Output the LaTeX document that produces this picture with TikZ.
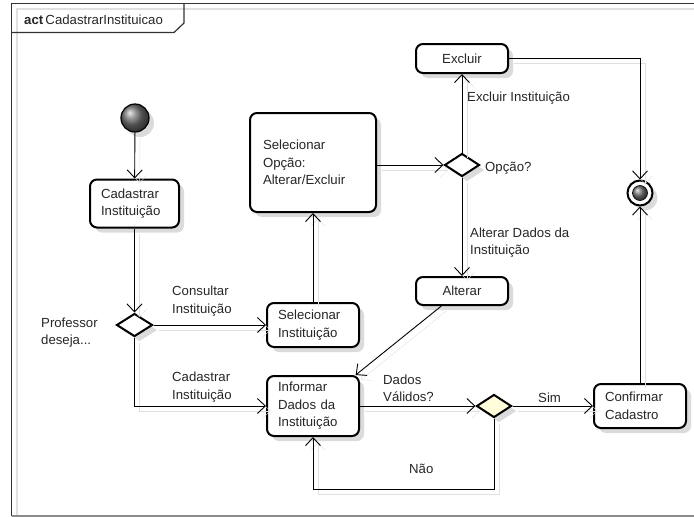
\documentclass[tikz,border=0pt]{standalone}
\usepackage{fontspec}
\setmainfont{Liberation Sans}
\usetikzlibrary{arrows.meta,shapes.geometric,shadows,calc}
\begin{document}
\begin{tikzpicture}[x=1pt,y=-1pt,
  every node/.style={font=\fontsize{13.2}{17.5}\selectfont, text=black!85},
  boxshadow/.style={drop shadow={shadow xshift=5pt,shadow yshift=-5pt,fill=black!14,opacity=1}},
  action/.style={draw=black, line width=2pt, rounded corners=7pt, fill=white,
    inner xsep=11pt, inner ysep=0pt, align=left, boxshadow},
  choice/.style={draw=black, diamond, line width=2pt, fill=white, inner sep=0pt,
    minimum width=36pt, minimum height=23pt, boxshadow},
  lbl/.style={inner sep=0pt, anchor=west, align=left},
  flow/.style={draw=black, line width=0.9pt,
    -{Straight Barb[length=8pt,width=15pt,line width=0.9pt]},
    preaction={draw=black!12, transform canvas={xshift=5pt,yshift=-5pt}}}
]
\useasboundingbox (0,0) rectangle (694,517);

% frame with its shadow
\draw[black!12, line width=1.2pt] (17,517) -- (17,9) -- (700,9);
\draw[black!80, line width=1.4pt] (11.5,516) -- (11.5,3.5) -- (700,3.5);
\draw[black!45, line width=2pt] (11.5,516) -- (700,516);
\draw[black!80, line width=1.2pt] (11.5,32.5) -- (174,32.5) -- (184,23) -- (184,3.5);
\node[lbl] (title) at (24,20) {\textbf{act}\,CadastrarInstituicao};

% activity nodes
\node[circle, draw=black, line width=1.2pt, minimum size=28pt, inner sep=0pt,
  shading=ball, ball color=black!55, boxshadow] (start) at (135,118) {};
\node[action, text width=67pt, minimum height=48pt] (cad) at (134.5,203.5)
  {Cadastrar\\Instituição};
\node[choice] (d1) at (134.5,325) {};
\node[action, text width=70pt, minimum height=44pt] (selinst) at (313,325)
  {Selecionar\\Instituição};
\node[action, text width=70pt, minimum height=60pt] (inf) at (313,406)
  {Informar\\Dados da\\Instituição};
\node[action, inner xsep=13pt, text width=100pt, minimum height=99pt] (selop) at (313,162.5)
  {Selecionar\\Opção:\\Alterar/Excluir};
\node[choice, minimum width=35pt] (d2) at (462,165) {};
\node[action, align=center, text width=70pt, minimum height=29pt] (excl) at (462,58.5)
  {Excluir};
\node[action, align=center, text width=70pt, minimum height=28pt] (alt) at (462,291)
  {Alterar};
\node[choice, minimum width=35pt, fill={rgb,255:red,255;green,253;blue,218}] (d3) at (494,406) {};
\node[action, text width=70pt, minimum height=44pt] (conf) at (640,406)
  {Confirmar\\Cadastro};
\node[circle, draw=black, line width=2pt, fill=white, minimum size=25pt, inner sep=0pt,
  boxshadow] (final) at (640,193) {};
\node[circle, draw=black, line width=0.6pt, minimum size=15pt, inner sep=0pt,
  shading=ball, ball color=black!55] (finalin) at (final) {};

% connectors
\coordinate (loopy) at (0,489);
\draw[flow] (start) -- (cad);
\draw[flow] (cad) -- (d1);
\draw[flow] (d1) -- (selinst);
\draw[flow] (d1.south) |- (inf.west);
\draw[flow] (selinst) -- (selop);
\draw[flow] (selop.east |- d2.west) -- (d2.west);
\draw[flow] (d2) -- (excl);
\draw[flow] (d2) -- (alt);
\draw[flow] (alt.216) -- (inf.36);
\draw[flow] (inf) -- (d3);
\draw[flow] (d3) -- (conf);
\draw[flow] (conf) -- (final);
\draw[flow] (excl.east) -| (final.north);
\draw[flow] (d3.south) -- (d3.south |- loopy) -| (inf.south);

% guard and decision labels
\node[lbl] (lprof) at (41,332.5) {Professor\\deseja...};
\node[lbl] (lcons) at (172,301) {Consultar\\Instituição};
\node[lbl] (lcad) at (172,387) {Cadastrar\\Instituição};
\node[lbl] (ldados) at (383,388.5) {Dados\\Válidos?};
\node[lbl] (lsim) at (538,398) {Sim};
\node[lbl] (lnao) at (409,469) {Não};
\node[lbl] (lexcl) at (467,98) {Excluir Instituição};
\node[lbl] (lopc) at (485,168) {Opção?};
\node[lbl] (lalt) at (470,242.5) {Alterar Dados da\\Instituição};
\end{tikzpicture}
\end{document}
